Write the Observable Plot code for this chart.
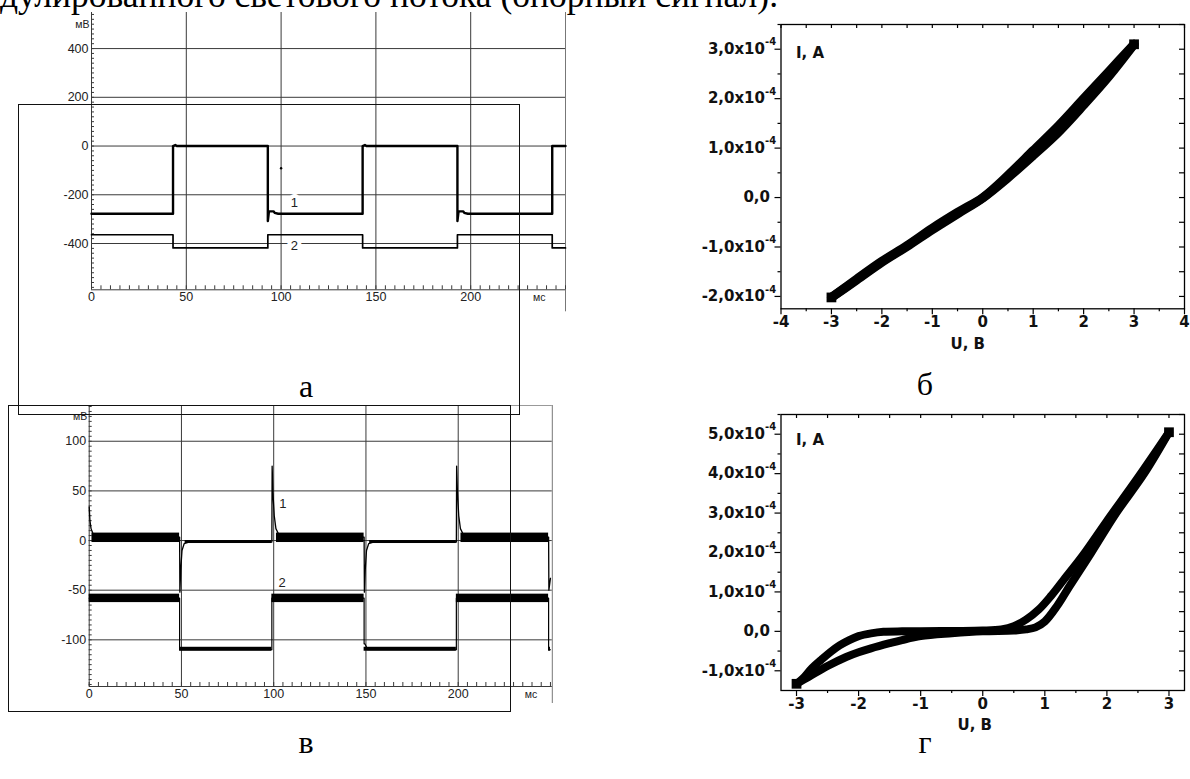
<!DOCTYPE html>
<html lang="ru">
<head>
<meta charset="utf-8">
<title>Осциллограммы фотосигнала и ВАХ</title>
<script src="https://cdn.jsdelivr.net/npm/d3@7"></script>
<script src="https://cdn.jsdelivr.net/npm/@observablehq/plot@0.6"></script>
<style>
  html, body { margin: 0; padding: 0; background: #fff; }
  #page { position: relative; width: 1190px; height: 779px; overflow: hidden; background: #fff; }
  .box { position: absolute; border: 1.5px solid #111; box-sizing: border-box; pointer-events: none; }
  .serif { position: absolute; font-family: "Liberation Serif", "Times New Roman", serif; color: #000;
           white-space: nowrap; line-height: 1; }
</style>
</head>
<body>
<div id="page"></div>
<script>
// ---------- а: осциллограммы (мВ от мс), кривые 1 и 2 ----------
const a1Time = [0, 43, 43, 44.2, 45, 93, 93, 93.6, 96, 96.6, 98.5, 143, 143, 144.2, 145, 193, 193, 193.6, 196, 196.6, 198.5, 243, 243, 250];
const a1Volt = [-278, -278, 0, 4, 0, 0, -308, -268, -268, -274, -278, -278, 0, 4, 0, 0, -308, -268, -268, -274, -278, -278, 0, 0];
const a2Time = [0, 43, 43, 93, 93, 143, 143, 193, 193, 243, 243, 250];
const a2Volt = [-364, -364, -418, -418, -364, -364, -418, -418, -364, -364, -418, -418];
const aStrayTime = [100];
const aStrayVolt = [-91];
const aCurveNames = ["1", "2"];
const aNameTime = [107, 107];
const aNameVolt = [-234, -408];
const aVoltTicks = [-400, -200, 0, 200, 400];
const aTimeTicks = [0, 50, 100, 150, 200];
const aGridTime = [50, 100, 150, 200];

// ---------- в: осциллограммы (мВ от мс), кривые 1 и 2 ----------
const v1Time = [0, 0.4, 1, 1.8, 3, 5, 49, 49.15, 49.6, 50.3, 51.5, 54, 99, 99.15, 99.6, 100.3, 101.2, 102.5, 105,
                149, 149.15, 149.6, 150.3, 151.5, 154, 199, 199.15, 199.6, 200.3, 201.2, 202.5, 205, 249, 249.15, 250];
const v1Volt = [34, 20, 12, 8, 5, 3.5, 3.5, -52, -30, -10, -3, -1.5, -1.5, 75, 48, 25, 12, 7, 3.5,
                3.5, -52, -30, -10, -3, -1.5, -1.5, 75, 48, 25, 12, 7, 3.5, 3.5, -50, -38];
// шумовая полоса кривой 1 на плато
const v1BandStart = [1.5, 52, 101.5, 152, 201.5];
const v1BandEnd = [49, 99, 149, 199, 249];
const v1BandLow = [-2, -3, -2, -3, -2];
const v1BandHigh = [7.5, 0, 7.5, 0, 7.5];
const v2Time = [0, 49, 49, 99, 99, 149, 149, 149.4, 150.5, 151, 199, 199, 249, 249, 250];
const v2Volt = [-58, -58, -110, -110, -58, -58, -104, -104, -108, -110, -110, -58, -58, -110, -110];
const v2BandStart = [0, 49, 99, 149, 199, 249];
const v2BandEnd = [49, 99, 149, 199, 249, 250];
const v2BandLow = [-62.5, -111.5, -62.5, -111.5, -62.5, -111.5];
const v2BandHigh = [-54, -107.5, -54, -107.5, -54, -107.5];
const vCurveNames = ["1", "2"];
const vNameTime = [105, 104.5];
const vNameVolt = [37, -43];
const vVoltTicks = [-100, -50, 0, 50, 100];
const vTimeTicks = [0, 50, 100, 150, 200];
const vGridTime = [50, 100, 150, 200];

// ---------- б: ВАХ, I (А) от U (В) ----------
const bU = [-3, -2.5, -2, -1.5, -1, -0.5, 0, 0.5, 1, 1.5, 2, 2.5, 3];
const bIforward = [-2.02e-4, -1.65e-4, -1.29e-4, -0.97e-4, -0.62e-4, -0.30e-4, 0, 0.45e-4, 0.95e-4, 1.45e-4, 2.0e-4, 2.55e-4, 3.1e-4];
const bIreverse = [-2.02e-4, -1.67e-4, -1.31e-4, -0.99e-4, -0.65e-4, -0.33e-4, -0.01e-4, 0.40e-4, 0.85e-4, 1.32e-4, 1.87e-4, 2.45e-4, 3.1e-4];
const bUTicks = [-4, -3, -2, -1, 0, 1, 2, 3, 4];
const bITicks = [-2e-4, -1e-4, 0, 1e-4, 2e-4, 3e-4];

// ---------- г: ВАХ с гистерезисом, I (А) от U (В) ----------
const gUupper = [-3.0, -2.9, -2.75, -2.6, -2.45, -2.3, -2.15, -2.0, -1.8, -1.6, -1.3, -1.0, -0.5, 0.0, 0.3, 0.5, 0.7, 0.9, 1.1, 1.3, 1.6, 2.0, 2.5, 3.0];
const gIupper = [-1.33e-4, -1.2e-4, -0.93e-4, -0.72e-4, -0.52e-4, -0.35e-4, -0.22e-4, -0.12e-4, -0.05e-4, -0.01e-4, 0, 0, 0.01e-4, 0.02e-4,
                 0.05e-4, 0.13e-4, 0.3e-4, 0.55e-4, 0.9e-4, 1.3e-4, 1.9e-4, 2.8e-4, 3.9e-4, 5.05e-4];
const gUlower = [-3.0, -2.8, -2.5, -2.2, -2.0, -1.8, -1.5, -1.3, -1.0, -0.5, 0, 0.5, 0.7, 0.85, 1.0, 1.2, 1.4, 1.75, 2.15, 2.6, 3.0];
const gIlower = [-1.33e-4, -1.15e-4, -0.88e-4, -0.65e-4, -0.53e-4, -0.43e-4, -0.3e-4, -0.22e-4, -0.12e-4, -0.05e-4, 0, 0.02e-4,
                 0.05e-4, 0.1e-4, 0.25e-4, 0.65e-4, 1.15e-4, 2.0e-4, 3.0e-4, 4.0e-4, 5.05e-4];
const gUTicks = [-3, -2, -1, 0, 1, 2, 3];
const gITicks = [-1e-4, 0, 1e-4, 2e-4, 3e-4, 4e-4, 5e-4];

// ---------- helpers ----------
const page = document.getElementById("page");
const zip = (xs, ys) => xs.map((x, i) => ({x, y: ys[i]}));
const halfSteps = (lo, hi, step) => d3.range(lo, hi + step / 2, step);

function mount(svg, box) {
  svg.style.position = "absolute";
  svg.style.left = box.left + "px";
  svg.style.top = box.top + "px";
  page.appendChild(svg);
}

// converts a pixel length into data units along each scale of a panel
function pxUnits(box) {
  const iw = box.width - box.margin[3] - box.margin[1];
  const ih = box.height - box.margin[0] - box.margin[2];
  return {
    dx: px => px * (box.x[1] - box.x[0]) / iw,
    dy: px => px * (box.y[1] - box.y[0]) / ih
  };
}

function frameOptions(box) {
  return {
    width: box.width, height: box.height,
    marginTop: box.margin[0], marginRight: box.margin[1], marginBottom: box.margin[2], marginLeft: box.margin[3],
    x: {domain: box.x, axis: null},
    y: {domain: box.y, axis: null},
    style: {background: "transparent", overflow: "visible"}
  };
}

// oscilloscope screen: grid, inward minor ticks, labels in мВ / мс
function scopePanel(box, o) {
  const u = pxUnits(box);
  const [x0, x1] = box.x, [y0, y1] = box.y;
  const font = {fontFamily: "Liberation Sans, Arial, sans-serif", fontSize: 12.5, fill: "#222"};
  const grid = {stroke: "#3a3a3a", strokeWidth: 1};
  return Plot.plot({
    ...frameOptions(box),
    marks: [
      Plot.ruleY(o.voltTicks, {y: d => d, x1: x0, x2: x1, ...grid}),
      Plot.ruleX(o.gridTime, {x: d => d, y1: y0, y2: y1, ...grid}),
      Plot.ruleY([y1], {x1: x0, x2: x1, stroke: "#999", strokeWidth: o.topEdge ? 1 : 0}),
      Plot.ruleX([x1], {y1: y0 - u.dy(o.edgeDrop), y2: y1, stroke: "#777", strokeWidth: 1}),
      Plot.ruleX([x0], {y1: y0, y2: y1, ...grid}),
      Plot.ruleY([y0], {x1: x0, x2: x1, ...grid}),
      Plot.ruleX(o.minorTime, {x: d => d, y1: y0, y2: y0 + u.dy(4), ...grid}),
      Plot.ruleY(o.minorVolt, {y: d => d, x1: x0, x2: x0 + u.dx(3), ...grid}),
      ...o.marks,
      Plot.text(o.voltTicks, {y: d => d, frameAnchor: "left", textAnchor: "end", dx: -3, text: d => String(d), ...font}),
      Plot.text(o.timeTicks, {x: d => d, frameAnchor: "bottom", dy: 11, text: d => String(d), ...font}),
      Plot.text(["мВ"], {frameAnchor: "top-left", textAnchor: "end", dx: -2, dy: o.unitDy, text: d => d, ...font, fontSize: 10.5}),
      Plot.text(["мс"], {frameAnchor: "bottom-right", dx: o.msDx, dy: 11, text: d => d, ...font, fontSize: 10.5})
    ]
  });
}

// I–V frame: outward ticks left/bottom, inward mirror ticks top/right, "x10^-4" labels
function ivPanel(box, o) {
  const u = pxUnits(box);
  const [x0, x1] = box.x, [y0, y1] = box.y;
  const font = {fontFamily: "DejaVu Sans, Verdana, sans-serif", fontWeight: "bold", fontSize: 15, fill: "#111"};
  const ink = {stroke: "#000", strokeWidth: 1.2};
  const allU = o.uTicks.concat(o.uMinor);
  const allI = o.iTicks.concat(o.iMinor);
  const mantissa = v => (v / 1e-4).toFixed(1).replace(".", ",") + "x10";
  const nonzero = o.iTicks.filter(v => v !== 0);
  return Plot.plot({
    ...frameOptions(box),
    marks: [
      Plot.frame({stroke: "#000", strokeWidth: 1.3}),
      Plot.ruleX(o.uTicks, {x: d => d, y1: y0, y2: y0 - u.dy(6), ...ink}),
      Plot.ruleX(o.uMinor, {x: d => d, y1: y0, y2: y0 - u.dy(3), ...ink}),
      Plot.ruleX(allU, {x: d => d, y1: y1, y2: y1 - u.dy(4), ...ink}),
      Plot.ruleY(o.iTicks, {y: d => d, x1: x0, x2: x0 - u.dx(6), ...ink}),
      Plot.ruleY(o.iMinor, {y: d => d, x1: x0, x2: x0 - u.dx(3), ...ink}),
      Plot.ruleY(allI, {y: d => d, x1: x1, x2: x1 - u.dx(5), ...ink}),
      ...o.curves,
      Plot.text(o.uTicks, {x: d => d, frameAnchor: "bottom", dy: 18, text: d => String(d), ...font}),
      Plot.text(nonzero, {y: d => d, frameAnchor: "left", textAnchor: "end", dx: -16, text: mantissa, ...font}),
      Plot.text(nonzero, {y: d => d, frameAnchor: "left", textAnchor: "start", dx: -16, dy: -7, text: () => "-4", ...font, fontSize: 10}),
      Plot.text([0], {y: d => d, frameAnchor: "left", textAnchor: "end", dx: -11, text: () => "0,0", ...font}),
      Plot.text(["I, A"], {frameAnchor: "top-left", textAnchor: "start", dx: 15, dy: o.iaDy, text: d => d, ...font}),
      Plot.text(["U, B"], {frameAnchor: "bottom", dx: o.ubDx, dy: o.ubDy, text: d => d, ...font})
    ]
  });
}

// ---------- panel а ----------
const boxA = {left: 0, top: 0, width: 600, height: 320, margin: [12, 35, 30.7, 91], x: [0, 250], y: [-590, 548]};
mount(scopePanel(boxA, {
  voltTicks: aVoltTicks, timeTicks: aTimeTicks, gridTime: aGridTime,
  minorTime: halfSteps(0, 250, 5), minorVolt: halfSteps(-580, 540, 20),
  edgeDrop: 22, unitDy: 8, msDx: -20, topEdge: false,
  marks: [
    Plot.line(zip(a2Time, a2Volt), {x: "x", y: "y", stroke: "#000", strokeWidth: 1.7}),
    Plot.line(zip(a1Time, a1Volt), {x: "x", y: "y", stroke: "#000", strokeWidth: 2.4}),
    Plot.dot(zip(aStrayTime, aStrayVolt), {x: "x", y: "y", r: 1.2, fill: "#000"}),
    Plot.text(aCurveNames.map((t, i) => ({t, x: aNameTime[i], y: aNameVolt[i]})),
      {x: "x", y: "y", text: "t", fontFamily: "Liberation Sans, Arial, sans-serif", fontSize: 13,
       fill: "#222", stroke: "#fff", strokeWidth: 8, paintOrder: "stroke"})
  ]
}), boxA);

// ---------- panel в ----------
const boxV = {left: 0, top: 395, width: 600, height: 330, margin: [10, 48.2, 39, 88.7], x: [0, 251], y: [-147, 136]};
const bandRows = (s, e, lo, hi) => s.map((x1, i) => ({x1, x2: e[i], y1: lo[i], y2: hi[i]}));
mount(scopePanel(boxV, {
  voltTicks: vVoltTicks, timeTicks: vTimeTicks, gridTime: vGridTime,
  minorTime: halfSteps(0, 250, 5), minorVolt: halfSteps(-145, 135, 5),
  edgeDrop: 17, unitDy: 7, msDx: -15, topEdge: true,
  marks: [
    Plot.rect(bandRows(v2BandStart, v2BandEnd, v2BandLow, v2BandHigh), {x1: "x1", x2: "x2", y1: "y1", y2: "y2", fill: "#000"}),
    Plot.line(zip(v2Time, v2Volt), {x: "x", y: "y", stroke: "#000", strokeWidth: 1.2}),
    Plot.rect(bandRows(v1BandStart, v1BandEnd, v1BandLow, v1BandHigh), {x1: "x1", x2: "x2", y1: "y1", y2: "y2", fill: "#000"}),
    Plot.line(zip(v1Time, v1Volt), {x: "x", y: "y", stroke: "#000", strokeWidth: 1.3}),
    Plot.text(vCurveNames.map((t, i) => ({t, x: vNameTime[i], y: vNameVolt[i]})),
      {x: "x", y: "y", text: "t", fontFamily: "Liberation Sans, Arial, sans-serif", fontSize: 13, fill: "#222"})
  ]
}), boxV);

// ---------- panel б ----------
const boxB = {left: 660, top: 0, width: 530, height: 360, margin: [24, 6, 51.7, 120.5], x: [-4, 4], y: [-2.25e-4, 3.5e-4]};
const ivStroke = {x: "x", y: "y", stroke: "#000", curve: "catmull-rom", strokeLinejoin: "round"};
mount(ivPanel(boxB, {
  uTicks: bUTicks, uMinor: halfSteps(-3.5, 3.5, 1),
  iTicks: bITicks, iMinor: halfSteps(-1.5e-4, 3.5e-4, 1e-4),
  iaDy: 23, ubDx: -15, ubDy: 40,
  curves: [
    Plot.line(zip(bU, bIreverse), {...ivStroke, strokeWidth: 9}),
    Plot.line(zip(bU, bIforward), {...ivStroke, strokeWidth: 9}),
    Plot.dot(zip([bU[0], bU[bU.length - 1]], [bIforward[0], bIforward[bIforward.length - 1]]),
      {x: "x", y: "y", symbol: "square", r: 5.5, fill: "#000"})
  ]
}), boxB);

// ---------- panel г ----------
const boxG = {left: 660, top: 400, width: 530, height: 350, margin: [14, 6, 60, 120.5], x: [-3.25, 3.25], y: [-1.5e-4, 5.5e-4]};
mount(ivPanel(boxG, {
  uTicks: gUTicks, uMinor: halfSteps(-2.5, 2.5, 1),
  iTicks: gITicks, iMinor: halfSteps(-0.5e-4, 5.5e-4, 1e-4),
  iaDy: 20, ubDx: -8, ubDy: 39,
  curves: [
    Plot.line(zip(gUlower, gIlower), {...ivStroke, strokeWidth: 8}),
    Plot.line(zip(gUupper, gIupper), {...ivStroke, strokeWidth: 8}),
    Plot.dot(zip([gUupper[0], gUupper[gUupper.length - 1]], [gIupper[0], gIupper[gIupper.length - 1]]),
      {x: "x", y: "y", symbol: "square", r: 5.5, fill: "#000"})
  ]
}), boxG);

// ---------- page text and outline boxes ----------
function serif(text, cx, baseline, size, center) {
  const el = document.createElement("div");
  el.className = "serif";
  el.textContent = text;
  el.style.fontSize = size + "px";
  el.style.top = (baseline - 0.8375 * size) + "px";
  el.style.left = cx + "px";
  if (center) el.style.transform = "translateX(-50%)";
  page.appendChild(el);
}
serif("дулированного светового потока (опорный сигнал).", 0, 8, 35.5, false);
serif("а", 306, 397, 32, true);
serif("б", 925, 395, 32, true);
serif("в", 306, 753, 32, true);
serif("г", 925, 753, 32, true);

function outline(l, t, r, b) {
  const el = document.createElement("div");
  el.className = "box";
  Object.assign(el.style, {left: l + "px", top: t + "px", width: (r - l) + "px", height: (b - t) + "px"});
  page.appendChild(el);
}
outline(18, 104, 520, 415);
outline(8, 405, 511, 712);
</script>
</body>
</html>
